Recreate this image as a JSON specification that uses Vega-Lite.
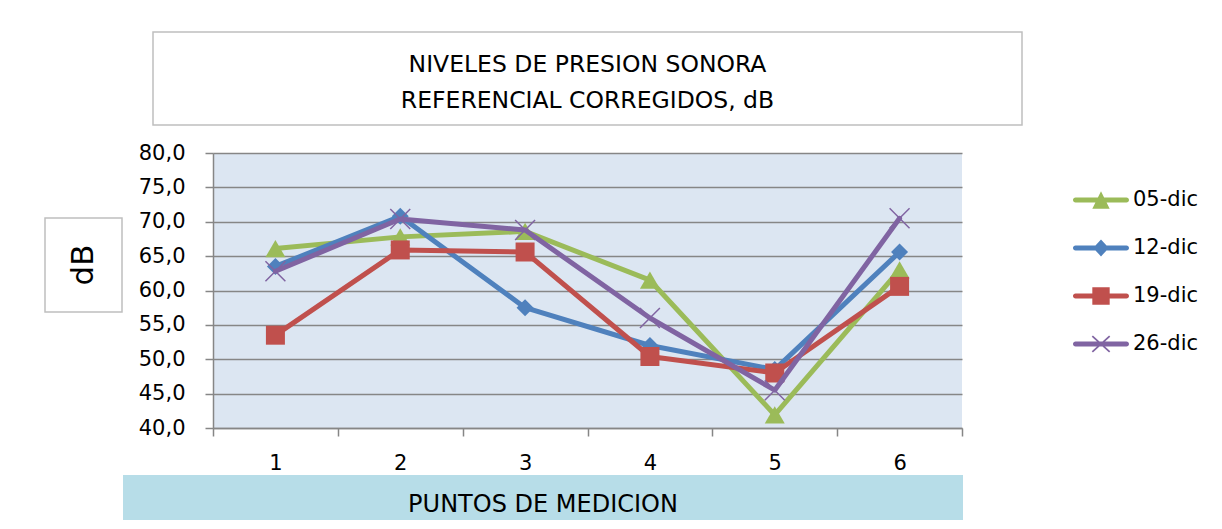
{
  "$schema": "https://vega.github.io/schema/vega-lite/v6.json",
  "background": "white",
  "padding": {"left": 44, "top": 31, "right": 0, "bottom": 0},
  "autosize": {"type": "pad"},
  "config": {
    "view": {"stroke": null},
    "font": "DejaVu Sans",
    "axis": {"labelFont": "DejaVu Sans"},
    "legend": {"labelFont": "DejaVu Sans"},
    "text": {"font": "DejaVu Sans"}
  },
  "spacing": 2,
  "vconcat": [
    {
      "spacing": 16,
      "vconcat": [
        {
          "bounds": "flush",
          "spacing": 107,
          "hconcat": [
            {"width": 1, "height": 1, "data": {"values": []}, "mark": "point"},
            {
              "width": 869, "height": 93,
              "view": {"stroke": "#bfbfbf", "strokeWidth": 1.5, "fill": "white"},
              "data": {"values": [
                {"linea": 1, "t": "NIVELES DE PRESION SONORA"},
                {"linea": 2, "t": "REFERENCIAL CORREGIDOS, dB"}
              ]},
              "mark": {"type": "text", "fontSize": 23.5, "color": "black", "align": "center", "baseline": "middle"},
              "encoding": {
                "y": {"field": "linea", "type": "ordinal", "scale": {"type": "point", "padding": 0.8, "align": 0.576}, "axis": null},
                "text": {"field": "t", "type": "nominal"}
              }
            }
          ]
        },
        {
          "spacing": 15,
          "hconcat": [
            {
              "bounds": "flush",
              "spacing": 64,
              "vconcat": [
                {"width": 1, "height": 1, "data": {"values": []}, "mark": "point"},
                {
                  "width": 77, "height": 94,
                  "view": {"stroke": "#bfbfbf", "strokeWidth": 1.5, "fill": "white"},
                  "data": {"values": [{"t": "dB"}]},
                  "mark": {"type": "text", "angle": 270, "fontSize": 31, "color": "black", "align": "center", "baseline": "middle"},
                  "encoding": {"text": {"field": "t", "type": "nominal"}}
                }
              ]
            },
            {
              "width": 749, "height": 275,
              "view": {"fill": "#dce6f2", "stroke": null},
              "data": {"values": [
                {"punto": 1, "serie": "05-dic", "db": 66.1},
                {"punto": 2, "serie": "05-dic", "db": 67.8},
                {"punto": 3, "serie": "05-dic", "db": 68.6},
                {"punto": 4, "serie": "05-dic", "db": 61.5},
                {"punto": 5, "serie": "05-dic", "db": 41.9},
                {"punto": 6, "serie": "05-dic", "db": 63.0},
                {"punto": 1, "serie": "12-dic", "db": 63.5},
                {"punto": 2, "serie": "12-dic", "db": 70.8},
                {"punto": 3, "serie": "12-dic", "db": 57.5},
                {"punto": 4, "serie": "12-dic", "db": 52.0},
                {"punto": 5, "serie": "12-dic", "db": 48.5},
                {"punto": 6, "serie": "12-dic", "db": 65.6},
                {"punto": 1, "serie": "19-dic", "db": 53.5},
                {"punto": 2, "serie": "19-dic", "db": 65.9},
                {"punto": 3, "serie": "19-dic", "db": 65.6},
                {"punto": 4, "serie": "19-dic", "db": 50.4},
                {"punto": 5, "serie": "19-dic", "db": 48.0},
                {"punto": 6, "serie": "19-dic", "db": 60.6},
                {"punto": 1, "serie": "26-dic", "db": 62.8},
                {"punto": 2, "serie": "26-dic", "db": 70.4},
                {"punto": 3, "serie": "26-dic", "db": 68.8},
                {"punto": 4, "serie": "26-dic", "db": 56.0},
                {"punto": 5, "serie": "26-dic", "db": 45.5},
                {"punto": 6, "serie": "26-dic", "db": 70.5}
              ]},
              "encoding": {
                "x": {
                  "field": "punto", "type": "ordinal",
                  "scale": {"type": "band", "paddingInner": 0, "paddingOuter": 0},
                  "axis": {"title": null, "labelAngle": 0, "labelFontSize": 21, "labelColor": "black", "labelPadding": 16, "tickBand": "extent", "tickSize": 8, "tickColor": "#868686", "tickWidth": 1.5, "domainColor": "#868686", "domainWidth": 1.5, "grid": false}
                },
                "y": {
                  "field": "db", "type": "quantitative",
                  "scale": {"domain": [40, 80], "nice": false, "zero": false},
                  "axis": {"title": null, "values": [40, 45, 50, 55, 60, 65, 70, 75, 80], "labelExpr": "replace(format(datum.value, '.1f'), '.', ',')", "labelFlush": false, "labelFontSize": 21, "labelColor": "black", "labelPadding": 20, "tickSize": 8, "tickColor": "#868686", "tickWidth": 1.5, "domainColor": "#868686", "domainWidth": 1.5, "grid": true, "gridColor": "#868686", "gridWidth": 1.5}
                }
              },
              "layer": [
                {"transform": [{"filter": "datum.serie == '05-dic'"}], "mark": {"type": "line", "color": "#9bbb59", "strokeWidth": 5, "strokeJoin": "round", "strokeCap": "round"}, "encoding": {}},
                {"transform": [{"filter": "datum.serie == '05-dic'"}], "mark": {"type": "point", "shape": "triangle-up", "filled": true, "opacity": 1, "color": "#9bbb59", "size": 400, "strokeWidth": 0}, "encoding": {}},
                {"transform": [{"filter": "datum.serie == '12-dic'"}], "mark": {"type": "line", "color": "#4f81bd", "strokeWidth": 5, "strokeJoin": "round", "strokeCap": "round"}, "encoding": {}},
                {"transform": [{"filter": "datum.serie == '12-dic'"}], "mark": {"type": "point", "shape": "diamond", "filled": true, "opacity": 1, "color": "#4f81bd", "size": 289, "strokeWidth": 0}, "encoding": {}},
                {"transform": [{"filter": "datum.serie == '19-dic'"}], "mark": {"type": "line", "color": "#c0504d", "strokeWidth": 5, "strokeJoin": "round", "strokeCap": "round"}, "encoding": {}},
                {"transform": [{"filter": "datum.serie == '19-dic'"}], "mark": {"type": "point", "shape": "square", "filled": true, "opacity": 1, "color": "#c0504d", "size": 361, "strokeWidth": 0}, "encoding": {}},
                {"transform": [{"filter": "datum.serie == '26-dic'"}], "mark": {"type": "line", "color": "#8064a2", "strokeWidth": 5, "strokeJoin": "round", "strokeCap": "round"}, "encoding": {}},
                {"transform": [{"filter": "datum.serie == '26-dic'"}], "mark": {"type": "point", "shape": "M-1,-0.9L-0.9,-1L1,0.9L0.9,1Z M1,-0.9L-0.9,1L-1,0.9L0.9,-1Z", "filled": true, "opacity": 1, "color": "#8064a2", "size": 441, "strokeWidth": 0}, "encoding": {}},
                {
                  "transform": [{"filter": "false"}],
                  "mark": {"type": "point", "filled": true, "opacity": 1, "strokeWidth": 0},
                  "encoding": {
                    "color": {
                      "field": "serie", "type": "nominal",
                      "scale": {"domain": ["05-dic", "12-dic", "19-dic", "26-dic"], "range": ["#9bbb59", "#4f81bd", "#c0504d", "#8064a2"]},
                      "legend": {"orient": "none", "legendX": 1028, "legendY": 140, "title": null, "padding": 0, "symbolSize": 3136, "symbolStrokeWidth": 0, "symbolOpacity": 1, "labelFontSize": 21, "labelColor": "black", "labelOffset": 4, "rowPadding": 10}
                    },
                    "shape": {
                      "field": "serie", "type": "nominal",
                      "scale": {"domain": ["05-dic", "12-dic", "19-dic", "26-dic"], "range": [
                        "M-0.91,-0.09H0.91A0.09,0.09 0 0 1 0.91,0.09H-0.91A0.09,0.09 0 0 1 -0.91,-0.09Z M0,-0.31L0.31,0.31L-0.31,0.31Z",
                        "M-0.91,-0.09H0.91A0.09,0.09 0 0 1 0.91,0.09H-0.91A0.09,0.09 0 0 1 -0.91,-0.09Z M0,-0.3L0.28,0L0,0.3L-0.28,0Z",
                        "M-0.91,-0.09H0.91A0.09,0.09 0 0 1 0.91,0.09H-0.91A0.09,0.09 0 0 1 -0.91,-0.09Z M-0.31,-0.31H0.31V0.31H-0.31Z",
                        "M-0.91,-0.09H0.91A0.09,0.09 0 0 1 0.91,0.09H-0.91A0.09,0.09 0 0 1 -0.91,-0.09Z M-0.331,-0.256L-0.289,-0.304L0.331,0.256L0.289,0.304Z M0.331,-0.256L-0.289,0.304L-0.331,0.256L0.289,-0.304Z"
                      ]},
                      "legend": {"orient": "none", "legendX": 1028, "legendY": 140, "title": null, "padding": 0, "symbolSize": 3136, "symbolStrokeWidth": 0, "symbolOpacity": 1, "labelFontSize": 21, "labelColor": "black", "labelOffset": 4, "rowPadding": 10}
                    }
                  }
                }
              ]
            }
          ]
        }
      ]
    },
    {
      "bounds": "flush",
      "spacing": 77,
      "hconcat": [
        {"width": 1, "height": 1, "data": {"values": []}, "mark": "point"},
        {
          "width": 840, "height": 45,
          "view": {"fill": "#b7dde8", "stroke": null},
          "data": {"values": [{"t": "PUNTOS DE MEDICION"}]},
          "mark": {"type": "text", "fontSize": 24, "color": "black", "align": "center", "baseline": "middle"},
          "encoding": {
            "y": {"field": "t", "type": "nominal", "scale": {"type": "point", "padding": 0.5, "align": 0.656}, "axis": null},
            "text": {"field": "t", "type": "nominal"}
          }
        }
      ]
    }
  ]
}
